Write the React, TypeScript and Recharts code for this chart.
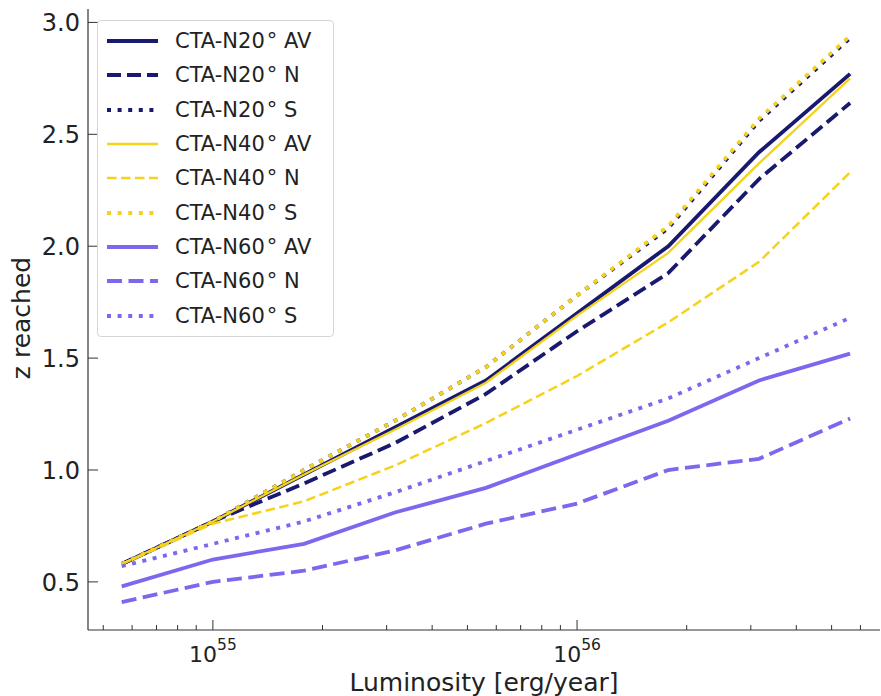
import { LineChart, Line, XAxis, YAxis, Legend } from "recharts"

document.body.style.margin = "0"

// luminosity grid [erg/year], quarter-decade steps
const luminosity = [5.62e54, 1e55, 1.78e55, 3.16e55, 5.62e55, 1e56, 1.78e56, 3.16e56, 5.62e56]

const n20AV = [0.58, 0.77, 0.98, 1.19, 1.40, 1.70, 2.00, 2.42, 2.77]
const n20N = [0.58, 0.77, 0.94, 1.12, 1.34, 1.62, 1.88, 2.30, 2.64]
const n20S = [0.58, 0.77, 1.00, 1.22, 1.46, 1.78, 2.08, 2.56, 2.93]
const n40AV = [0.58, 0.77, 0.98, 1.18, 1.39, 1.69, 1.97, 2.37, 2.75]
const n40N = [0.58, 0.76, 0.86, 1.02, 1.21, 1.42, 1.66, 1.93, 2.33]
const n40S = [0.58, 0.77, 1.00, 1.22, 1.46, 1.78, 2.09, 2.57, 2.94]
const n60AV = [0.48, 0.60, 0.67, 0.81, 0.92, 1.07, 1.22, 1.40, 1.52]
const n60N = [0.41, 0.50, 0.55, 0.64, 0.76, 0.85, 1.00, 1.05, 1.23]
const n60S = [0.57, 0.67, 0.77, 0.90, 1.04, 1.18, 1.32, 1.50, 1.68]

const xTicks = [
  5e54, 6e54, 7e54, 8e54, 9e54,
  1e55, 2e55, 3e55, 4e55, 5e55, 6e55, 7e55, 8e55, 9e55,
  1e56, 2e56, 3e56, 4e56, 5e56, 6e56,
]
const yTicks = [0.5, 1.0, 1.5, 2.0, 2.5, 3.0]

const NAVY = "#191970"
const GOLD = "#f5d31c"
const LAVENDER = "#7b68ee"
const FONT = "'DejaVu Sans', sans-serif"
const AXIS = "#333"

const series = [
  { key: "n20AV", name: "CTA-N20", tag: "AV", values: n20AV, color: NAVY, width: 3.8, dash: undefined },
  { key: "n20N", name: "CTA-N20", tag: "N", values: n20N, color: NAVY, width: 3.8, dash: "14 6" },
  { key: "n20S", name: "CTA-N20", tag: "S", values: n20S, color: NAVY, width: 3.8, dash: "4 6.6" },
  { key: "n40AV", name: "CTA-N40", tag: "AV", values: n40AV, color: GOLD, width: 2.3, dash: undefined },
  { key: "n40N", name: "CTA-N40", tag: "N", values: n40N, color: GOLD, width: 2.5, dash: "9.5 4.5" },
  { key: "n40S", name: "CTA-N40", tag: "S", values: n40S, color: GOLD, width: 3.8, dash: "4 6.6" },
  { key: "n60AV", name: "CTA-N60", tag: "AV", values: n60AV, color: LAVENDER, width: 3.8, dash: undefined },
  { key: "n60N", name: "CTA-N60", tag: "N", values: n60N, color: LAVENDER, width: 3.8, dash: "15 6.5" },
  { key: "n60S", name: "CTA-N60", tag: "S", values: n60S, color: LAVENDER, width: 3.8, dash: "4 6.6" },
]

const data = luminosity.map((lum, i) => {
  const row: Record<string, number> = { lum }
  series.forEach((s) => (row[s.key] = s.values[i]))
  return row
})

function XTick({ x, y, payload }: any) {
  const v = payload.value
  const exp = Math.round(Math.log10(v))
  const major = Math.abs(v - 10 ** exp) / v < 1e-6
  return (
    <g>
      <line x1={x} x2={x} y1={y} y2={y - (major ? 10 : 5)} stroke={AXIS} strokeWidth={1} />
      {major && (
        <text x={x} y={y + 32} textAnchor="middle" fontSize={22} fontFamily={FONT} fill="#222">
          10
          <tspan dy={-12} fontSize={15.5}>
            {exp}
          </tspan>
        </text>
      )}
    </g>
  )
}

function YTick({ x, y, payload }: any) {
  return (
    <g>
      <line x1={x} x2={x + 10} y1={y} y2={y} stroke={AXIS} strokeWidth={1} />
      <text x={x - 8} y={y} dy="0.36em" textAnchor="end" fontSize={24} fontFamily={FONT} fill="#222">
        {payload.value.toFixed(1)}
      </text>
    </g>
  )
}

function LegendBox() {
  return (
    <div
      style={{
        border: "1px solid #d6d6d6",
        borderRadius: 4,
        background: "rgba(255,255,255,0.85)",
        padding: "3px 0",
        fontFamily: FONT,
        fontSize: 21,
        color: "#222",
      }}
    >
      {series.map((s) => (
        <div key={s.key} style={{ height: 34.3, display: "flex", alignItems: "center" }}>
          <svg width={51} height={10} style={{ marginLeft: 9, marginRight: 17 }}>
            <line x1={0} x2={51} y1={5} y2={5} stroke={s.color} strokeWidth={s.width} strokeDasharray={s.dash} />
          </svg>
          <span style={{ whiteSpace: "nowrap" }}>
            {s.name}
            <span style={{ marginLeft: 2 }}>°</span> {s.tag}
          </span>
        </div>
      ))}
    </div>
  )
}

export default function App() {
  return (
    <LineChart width={881} height={696} data={data} margin={{ top: 9, right: 1, bottom: 0, left: 0 }}>
      <XAxis
        dataKey="lum"
        type="number"
        scale="log"
        domain={[4.54e54, 6.79e56]}
        allowDataOverflow
        ticks={xTicks}
        interval={0}
        tick={<XTick />}
        tickLine={false}
        tickSize={0}
        tickMargin={0}
        height={66}
        axisLine={{ stroke: AXIS, strokeWidth: 1.2 }}
        label={{
          content: () => (
            <text x={484} y={691} textAnchor="middle" fontSize={25} fontFamily={FONT} fill="#222">
              Luminosity [erg/year]
            </text>
          ),
        }}
      />
      <XAxis
        xAxisId="top"
        orientation="top"
        type="number"
        domain={[0, 1]}
        height={0}
        tick={false}
        tickLine={false}
        axisLine={{ stroke: AXIS, strokeWidth: 1.2 }}
      />
      <YAxis
        type="number"
        domain={[0.285, 3.06]}
        allowDataOverflow
        ticks={yTicks}
        interval={0}
        tick={<YTick />}
        tickLine={false}
        tickSize={0}
        tickMargin={0}
        width={88}
        axisLine={{ stroke: AXIS, strokeWidth: 1.2 }}
        label={{
          content: () => (
            <text
              x={30}
              y={318}
              transform="rotate(-90 30 318)"
              textAnchor="middle"
              fontSize={25}
              fontFamily={FONT}
              fill="#222"
            >
              z reached
            </text>
          ),
        }}
      />
      <YAxis
        yAxisId="right"
        orientation="right"
        type="number"
        domain={[0, 1]}
        width={0}
        tick={false}
        tickLine={false}
        axisLine={{ stroke: AXIS, strokeWidth: 1.2 }}
      />
      <Legend
        layout="vertical"
        align="center"
        verticalAlign="middle"
        wrapperStyle={{ left: 97, top: 20, width: 237 }}
        content={() => <LegendBox />}
      />
      {series.map((s) => (
        <Line
          key={s.key}
          dataKey={s.key}
          type="linear"
          stroke={s.color}
          strokeWidth={s.width}
          strokeDasharray={s.dash}
          dot={false}
          activeDot={false}
          isAnimationActive={false}
        />
      ))}
    </LineChart>
  )
}
